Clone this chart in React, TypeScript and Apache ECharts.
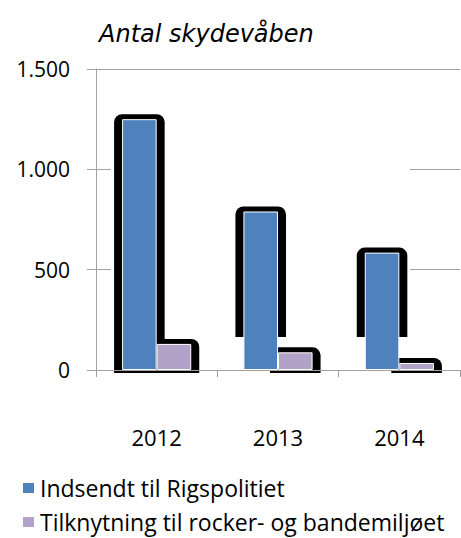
import React, { useEffect, useRef } from "react";
import * as echarts from "echarts";

const categories = ["2012", "2013", "2014"];
const indsendt = [1250, 790, 585];
const tilknytning = [130, 88, 35];
const seriesNames = ["Indsendt til Rigspolitiet", "Tilknytning til rocker- og bandemiljøet"];
const yMin = 0;
const yMax = 1500;
const yStep = 500;
const titleText = "Antal skydevåben";

const fmt = (v: number) => String(v).replace(/\B(?=(\d{3})+(?!\d))/g, ".");

export default function App() {
  const ref = useRef<HTMLDivElement>(null);
  useEffect(() => {
    if (!ref.current) return;
    const chart = echarts.init(ref.current, null, { renderer: "svg" });
    const shadowData: number[][] = [];
    categories.forEach((_, i) => {
      shadowData.push([i, indsendt[i], 0]);
      shadowData.push([i, tilknytning[i], 1]);
    });
    const gray = "#A0A0A0";
    const legendBase = {
      orient: "vertical",
      left: 21,
      itemWidth: 13,
      itemHeight: 12,
      icon: "rect",
      padding: 0,
      textStyle: {
        fontFamily: "Open Sans",
        fontSize: 23,
        lineHeight: 26,
        color: "#000",
      },
    };
    chart.setOption({
      animation: false,
      backgroundColor: "#fff",
      title: {
        text: titleText,
        left: 94,
        top: 17,
        textStyle: {
          fontFamily: "DejaVu Sans",
          fontStyle: "italic",
          fontWeight: "normal",
          fontSize: 24,
          color: "#000",
        },
      },
      legend: [
        { ...legendBase, top: 475, data: [seriesNames[0]] },
        { ...legendBase, top: 509, data: [seriesNames[1]] },
      ],
      grid: { left: 96, right: 1, top: 69, bottom: 168 },
      xAxis: {
        type: "category",
        data: categories,
        z: 4,
        axisLine: { lineStyle: { color: gray, width: 1 } },
        axisTick: { show: true, length: 7, lineStyle: { color: gray } },
        axisLabel: {
          margin: 56,
          fontFamily: "Open Sans",
          fontSize: 22,
          color: "#000",
        },
      },
      yAxis: {
        type: "value",
        min: yMin,
        max: yMax,
        interval: yStep,
        axisLine: { show: true, lineStyle: { color: gray, width: 1 } },
        axisTick: { show: true, length: 9, lineStyle: { color: gray } },
        splitLine: { show: true, lineStyle: { color: gray, width: 1 } },
        axisLabel: {
          margin: 26,
          formatter: (v: number) => fmt(v),
          fontFamily: "Open Sans",
          fontSize: 21,
          color: "#000",
        },
      },
      graphic: [
        {
          type: "rect",
          z: 1,
          silent: true,
          shape: { x: 111, y: 76, width: 299, height: 286 },
          style: { fill: "#fff" },
        },
      ],
      series: [
        {
          type: "custom",
          name: "shadow",
          z: 2,
          silent: true,
          data: shadowData,
          encode: { x: 0, y: 1 },
          renderItem: (params: any, api: any) => {
            const idx = api.value(0);
            const val = api.value(1);
            const s = api.value(2);
            const band = api.size([1, 0])[0];
            const cx = api.coord([idx, 0])[0];
            const base = api.coord([idx, 0])[1];
            const top = api.coord([idx, val])[1];
            const barW = band * 0.285;
            const left = s === 0 ? cx - barW : cx;
            let bottom = base + 3;
            if (s === 0 && idx > 0) bottom = api.coord([idx, 165])[1];
            return {
              type: "rect",
              shape: {
                x: left - 8,
                y: top - 5,
                width: barW + 16,
                height: bottom - (top - 5),
                r: [8, 8, 0, 0],
              },
              style: { fill: "#000" },
            };
          },
        },
        {
          type: "bar",
          name: seriesNames[0],
          data: indsendt,
          z: 3,
          barGap: "0%",
          barCategoryGap: "43%",
          itemStyle: { color: "#4F81BD", borderColor: "#fff", borderWidth: 1 },
        },
        {
          type: "bar",
          name: seriesNames[1],
          data: tilknytning,
          z: 3,
          barGap: "0%",
          barCategoryGap: "43%",
          itemStyle: { color: "#B3A2C7", borderColor: "#fff", borderWidth: 1 },
        },
      ],
    });
    return () => chart.dispose();
  }, []);
  return (
    <div
      ref={ref}
      style={{ position: "absolute", left: 0, top: 0, width: 461, height: 538 }}
    />
  );
}
